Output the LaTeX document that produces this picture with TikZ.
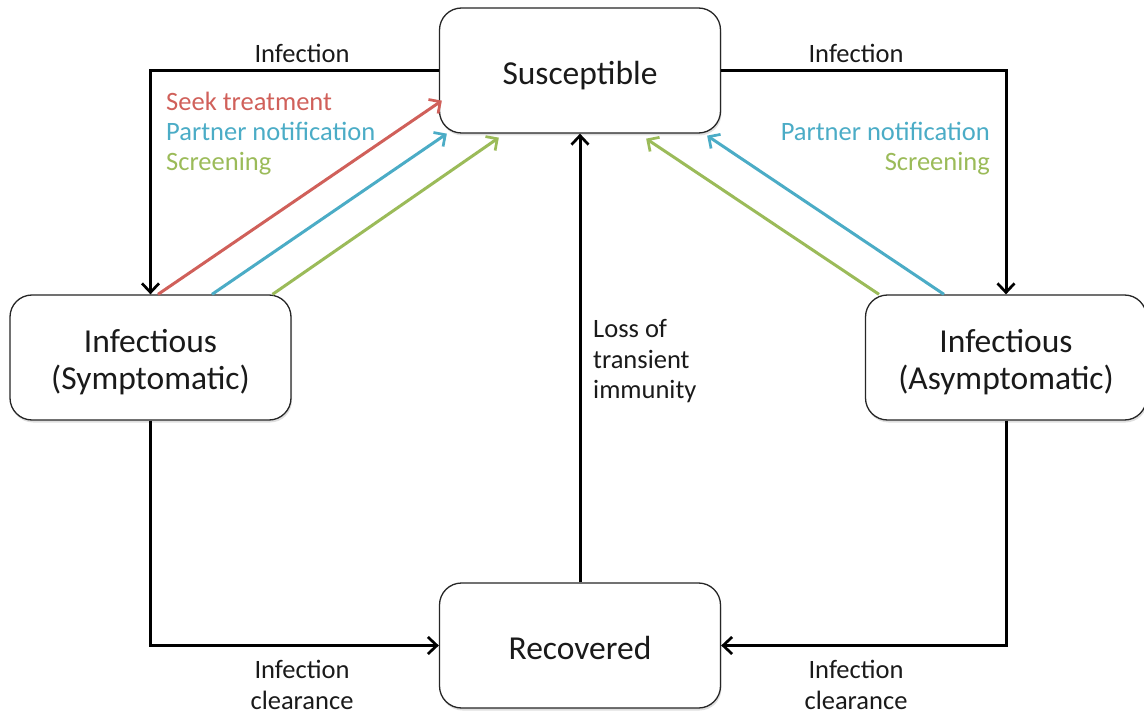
\documentclass[tikz,border=0pt]{standalone}
\usepackage{fontspec}
\setmainfont{Carlito}
\usetikzlibrary{arrows.meta,calc,shadows}
\definecolor{cred}{HTML}{D0605A}
\definecolor{cblue}{HTML}{4BACC6}
\definecolor{cgreen}{HTML}{9BBB59}
\definecolor{ctext}{HTML}{1A1A1A}
\newcommand{\lowered}[2]{\raisebox{-#1}[\height][\depth]{#2}}
\newcommand{\twolines}[2]{\lowered{6.5pt}{\begin{tabular}{@{}c@{}}#1\\#2\end{tabular}}}
\begin{document}
\begin{tikzpicture}[x=1pt,y=-1pt,
  statebox/.style={draw=black!85,line width=1.3pt,rounded corners=22pt,fill=white,
    minimum width=281pt,minimum height=125pt,align=center,inner sep=0pt,
    font=\fontsize{33.5}{37}\selectfont,text=ctext,
    drop shadow={shadow xshift=1pt,shadow yshift=-2.5pt,opacity=0.25}},
  lbl/.style={font=\fontsize{26.5}{30.5}\selectfont,text=ctext,inner sep=0pt},
  flow/.style={line width=3pt,-{Straight Barb[length=9pt,width=17pt,line width=2.7pt]}},
  cflow/.style={line width=3pt,-{Straight Barb[length=8.5pt,width=17pt,line width=2.7pt]}}
]
\useasboundingbox (0,0) rectangle (1144,714);
\node[statebox] (S) at (580,70.5) {\lowered{5pt}{Susceptible}};
\node[statebox] (Sym) at (150.5,357.5) {\twolines{Infectious}{(Symptomatic)}};
\node[statebox] (Asy) at (1006,357.5) {\twolines{Infectious}{(Asymptomatic)}};
\node[statebox] (R) at (580,645.5) {\lowered{2pt}{Recovered}};

% black flows
\draw[flow] (S.west) -| (Sym.north);
\draw[flow] (S.east) -| (Asy.north);
\draw[flow] (Sym.south) |- (R.west);
\draw[flow] (Asy.south) |- (R.east);
\draw[flow] (R.north) -- (S.south);

% coloured flows
\draw[cflow,cred] ($(Sym.north)+(7.5,0)$) -- ($(S.south west)+(3,-33)$);
\draw[cflow,cblue] ($(Sym.north)+(61.5,0)$) -- ($(S.south west)+(8,0)$);
\draw[cflow,cgreen] ($(Sym.north)+(122,0)$) -- ($(S.south west)+(60,4)$);
\draw[cflow,cgreen] ($(Asy.north)+(-127,0)$) -- ($(S.south east)+(-75,5)$);
\draw[cflow,cblue] ($(Asy.north)+(-62,0)$) -- ($(S.south east)+(-14,2)$);

% labels
\node[lbl,anchor=base] (l1) at (302,63) {Infection};
\node[lbl,anchor=base] (l2) at (856,63) {Infection};
\node[lbl,anchor=base west,text=cred] (l3) at (166,111) {Seek treatment};
\node[lbl,anchor=base west,text=cblue] (l4) at (166,141) {Partner notification};
\node[lbl,anchor=base west,text=cgreen] (l5) at (166,171) {Screening};
\node[lbl,anchor=base east,text=cblue] (l6) at (990,141) {Partner notification};
\node[lbl,anchor=base east,text=cgreen] (l7) at (990,171) {Screening};
\node[lbl,anchor=north west,align=left] (l8) at (593,319.5) {Loss of\\transient\\immunity};
\node[lbl,align=center] (l9) at (302,685) {Infection\\clearance};
\node[lbl,align=center] (l10) at (856,685) {Infection\\clearance};
\end{tikzpicture}
\end{document}
